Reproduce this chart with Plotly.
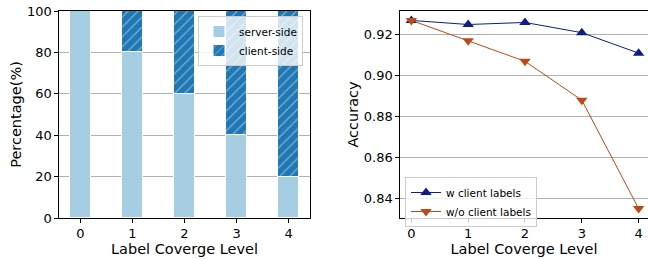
import plotly.graph_objects as go

levels = [0, 1, 2, 3, 4]
server_side = [100, 80, 60, 40, 20]
client_side = [0, 20, 40, 60, 80]
acc_with = [0.927, 0.925, 0.926, 0.921, 0.911]
acc_without = [0.927, 0.917, 0.907, 0.888, 0.835]

FONT = "DejaVu Sans"
fig = go.Figure()

fig.add_trace(go.Bar(x=levels, y=server_side, name="server-side", width=0.4,
                     marker=dict(color="#a6cee3", line=dict(color="white", width=1)),
                     xaxis="x", yaxis="y", legend="legend"))
fig.add_trace(go.Bar(x=levels, y=client_side, name="client-side", width=0.4,
                     marker=dict(color="#1f78b4", line=dict(color="white", width=1),
                                 pattern=dict(shape="/", fgcolor="white", bgcolor="#1f78b4",
                                              size=7, solidity=0.15)),
                     xaxis="x", yaxis="y", legend="legend"))

fig.add_trace(go.Scatter(x=levels, y=acc_with, name="w client labels", mode="lines+markers",
                         line=dict(color="#0b1e8a", width=1),
                         marker=dict(symbol="triangle-up", size=10, color="#0b1e8a"),
                         xaxis="x2", yaxis="y2", legend="legend2"))
fig.add_trace(go.Scatter(x=levels, y=acc_without, name="w/o client labels", mode="lines+markers",
                         line=dict(color="#bd4a16", width=1),
                         marker=dict(symbol="triangle-down", size=10, color="#bd4a16"),
                         xaxis="x2", yaxis="y2", legend="legend2"))

axis_common = dict(showline=True, linecolor="black", linewidth=1.2, ticks="outside",
                   ticklen=3.5, tickcolor="black", tickfont=dict(family=FONT, size=13, color="black"),
                   zeroline=False, automargin=False)
title_font = dict(family=FONT, size=14.5, color="black")

fig.update_layout(
    width=648, height=259, margin=dict(l=0, r=0, t=0, b=0, autoexpand=False),
    plot_bgcolor="white", paper_bgcolor="white",
    barmode="stack", bargap=0,
    font=dict(family=FONT, color="black"),
    xaxis=dict(domain=[59/648, 310/648], range=[-0.41, 4.41], tickvals=levels, mirror=True,
               showgrid=False, anchor="y",
               title=dict(text="Label Coverge Level", font=title_font, standoff=1),
               **axis_common),
    yaxis=dict(domain=[1-218/259, 1-11/259], range=[0, 100], tickvals=[0, 20, 40, 60, 80, 100],
               mirror=True, showgrid=True, gridcolor="#b0b0b0", gridwidth=1, anchor="x",
               title=dict(text="Percentage(%)", font=title_font, standoff=1),
               **axis_common),
    xaxis2=dict(domain=[400/648, 1.0], range=[-0.2, 4.165], tickvals=levels, mirror=True,
                showgrid=False, anchor="y2",
                title=dict(text="Label Coverge Level", font=title_font, standoff=1),
                **axis_common),
    yaxis2=dict(domain=[1-218/259, 1-11/259], range=[0.8304, 0.9316],
                tickvals=[0.84, 0.86, 0.88, 0.90, 0.92], ticktext=["0.84", "0.86", "0.88", "0.90", "0.92"],
                mirror=False, showgrid=True, gridcolor="#b0b0b0", gridwidth=1, anchor="x2",
                title=dict(text="Accuracy", font=title_font, standoff=1),
                **axis_common),
    legend=dict(x=303/648, y=1-16/259, xanchor="right", yanchor="top", traceorder="normal",
                bgcolor="rgba(255,255,255,0.8)", bordercolor="#cccccc", borderwidth=1,
                font=dict(family=FONT, size=10.5, color="black"), tracegroupgap=0, itemwidth=30),
    legend2=dict(x=405/648, y=1-177/259, xanchor="left", yanchor="top", traceorder="normal",
                 bgcolor="rgba(255,255,255,0.8)", bordercolor="#cccccc", borderwidth=1,
                 font=dict(family=FONT, size=10.5, color="black"), tracegroupgap=0, itemwidth=30),
    showlegend=True,
)

fig.write_html("out.html", config={"displayModeBar": False},
               post_script="document.body.style.margin='0';document.body.style.overflow='hidden';")
